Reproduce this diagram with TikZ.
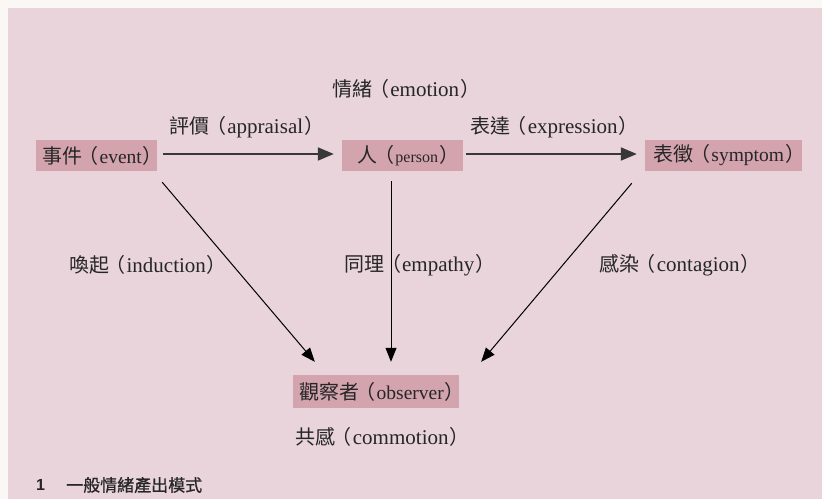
\documentclass[tikz,border=0pt]{standalone}
\usepackage{fontspec}
\setmainfont{Liberation Serif}
\newfontfamily\cjk{Noto Sans CJK TC}
\newfontfamily\cjkcap[FakeBold=0.8]{Noto Sans CJK TC}
\newfontfamily\capsans{Liberation Sans}
\usetikzlibrary{arrows.meta,calc}
\newcommand{\C}[1]{{\cjk\fontsize{20}{24}\selectfont #1}}
\newcommand{\LP}{\kern-3.5pt{\cjk\fontsize{20}{24}\selectfont （}\kern1pt}
\newcommand{\RP}{\kern1pt{\cjk\fontsize{20}{24}\selectfont ）}\kern-12pt}
\definecolor{bgpink}{HTML}{E8D4DA}
\definecolor{leftstrip}{HTML}{FAF7F4}
\definecolor{boxpink}{HTML}{D3A4AE}
\definecolor{txt}{HTML}{262626}
\definecolor{harrow}{HTML}{383838}
\begin{document}
\begin{tikzpicture}[x=1pt,y=1pt,
  every node/.style={text=txt,font=\fontsize{21}{24}\selectfont},
  boxnode/.style={fill=boxpink,inner sep=0pt,minimum height=31pt,font=\fontsize{19.5}{24}\selectfont},
  lbl/.style={inner sep=0pt},
  harr/.style={draw=harrow,line width=2pt,-{Triangle[length=16pt,width=13pt]}},
  darr/.style={draw=black,line width=1pt,-{Triangle[length=14pt,width=11pt]}}]
\useasboundingbox (0,0) rectangle (822,499);
\fill[leftstrip] (0,0) rectangle (822,499);
\fill[bgpink] (8,0) rectangle (822,491);

\node[boxnode,minimum width=121pt] (event) at (96.5,343.5) {\C{事件}\LP event\RP};
\node[boxnode,minimum width=121pt] (person) at (402.5,343.5) {\C{人}\LP{\fontsize{16}{20}\selectfont person}\RP};
\node[boxnode,minimum width=157pt] (symptom) at (723.5,343.5) {\C{表徵}\LP symptom\RP};
\node[boxnode,minimum width=166pt,minimum height=33pt] (observer) at (376,107.5) {\C{觀察者}\LP observer\RP};

\node[lbl] (emotion) at (400.5,410) {\C{情緒}\LP emotion\RP};
\node[lbl] (appraisal) at (241,372) {\C{評價}\LP appraisal\RP};
\node[lbl] (expression) at (548.5,372) {\C{表達}\LP expression\RP};
\node[lbl] (induction) at (142,234) {\C{喚起}\LP induction\RP};
\node[lbl] (empathy) at (414,234) {\C{同理}\LP empathy\RP};
\node[lbl] (contagion) at (674,234) {\C{感染}\LP contagion\RP};
\node[lbl] (commotion) at (376.5,62) {\C{共感}\LP commotion\RP};

\node[lbl,anchor=west] (capnum) at (36,14) {\capsans\bfseries\fontsize{16}{18}\selectfont 1};
\node[lbl,anchor=west] (captext) at (66,14) {\cjkcap\fontsize{17}{19}\selectfont 一般情緒產出模式};

\draw[harr] ($(event.east)+(6,1.5)$) -- ($(person.west)+(-8,1.5)$);
\draw[harr] ($(person.east)+(3,1.5)$) -- ($(symptom.west)+(-8,1.5)$);
\draw[darr] ($(event.south east)+(5,-11)$) -- ($(observer.north west)+(22,13)$);
\draw[darr] ($(person.south)+(-11.5,-10)$) -- ($(observer.north)+(15,13)$);
\draw[darr] ($(symptom.south west)+(-13,-12)$) -- ($(observer.north east)+(22,13)$);
\end{tikzpicture}
\end{document}
